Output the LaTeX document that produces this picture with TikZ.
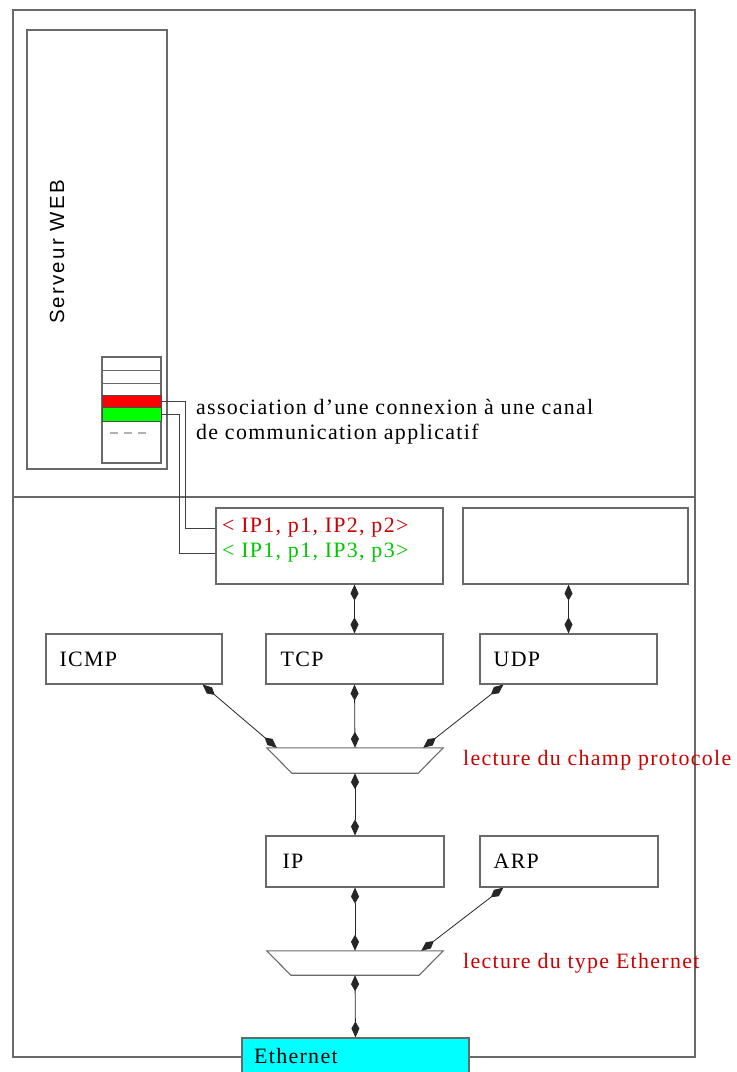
\documentclass[tikz,border=0pt]{standalone}
\usepackage{fontspec}
\setmainfont{Liberation Serif}[LetterSpace=6]
\newfontfamily\servfont{Liberation Sans}[LetterSpace=11]
\usetikzlibrary{arrows.meta,calc}
\definecolor{dred}{RGB}{204,0,0}
\definecolor{lgreen}{RGB}{0,200,0}
\definecolor{framec}{RGB}{105,105,105}
\definecolor{ethcyan}{RGB}{0,255,255}
\definecolor{rowred}{RGB}{255,0,0}
\definecolor{rowgreen}{RGB}{0,255,0}
\begin{document}
\begin{tikzpicture}[x=1bp,y=-1bp,font=\fontsize{22}{25}\selectfont,
  box/.style={draw=framec,line width=1.1bp,inner sep=0pt,fill=white},
  lbl/.style={inner sep=0pt,anchor=west},
  rowbox/.style={draw=black!70,line width=1bp,inner sep=0pt,minimum width=59bp},
  biarrow/.style={{Kite[length=16bp,width=8bp,inset=7bp]}-{Kite[length=16bp,width=8bp,inset=7bp]},line width=0.8bp,black!85},
  conn/.style={draw=black!75,line width=0.9bp}]
\useasboundingbox (0,0) rectangle (737,1072);
\clip (0,0) rectangle (737,1072);
% outer frame and divider
\draw[framec,line width=1.2bp] (13,10) rectangle (695,1057);
\draw[framec,line width=1.2bp] (13,497) -- (695,497);
% web server
\node[box,minimum width=140bp,minimum height=439bp] (server) at (97,249.5) {};
\node[inner sep=0pt,rotate=90,font=\servfont\fontsize{20.5}{22}\selectfont] (servlbl) at (57,252) {Serveur WEB};
% stack
\node[box,minimum width=59bp,minimum height=106bp] (stack) at (131.5,410) {};
\draw[framec,line width=1bp] (102,370) -- (161,370);
\draw[framec,line width=1bp] (102,383) -- (161,383);
\node[rowbox,fill=rowred,minimum height=12bp] (redrow) at (131.5,401) {};
\node[rowbox,fill=rowgreen,minimum height=14bp] (greenrow) at (131.5,414) {};
\draw[black!30,line width=2bp,dash pattern=on 8bp off 6bp] (110,433) -- (148,433);
\node[lbl,align=left,anchor=north west] (assoc) at (196,399) {association d’une connexion à une canal\\de communication applicatif};
% connection table
\node[box,minimum width=227bp,minimum height=76bp] (table) at (329.5,546) {};
\node[box,minimum width=225bp,minimum height=76bp] (empty) at (575.5,546) {};
\node[lbl,text=dred] (r1) at (222,528) {< IP1, p1, IP2, p2>};
\node[lbl,text=lgreen] (r2) at (222,553) {< IP1, p1, IP3, p3>};
\coordinate (rc) at (185,401);
\coordinate (gc) at (179,414);
\draw[conn] (redrow.east) -- (rc) |- (table.west |- r1.west);
\draw[conn] (greenrow.east) -- (gc) |- (table.west |- r2.west);
% transport layer
\node[box,minimum width=176bp,minimum height=50bp] (icmp) at (134,659) {};
\node[box,minimum width=177bp,minimum height=50bp] (tcp) at (354.5,659) {};
\node[box,minimum width=177bp,minimum height=50bp] (udp) at (568.5,659) {};
\node[lbl] (icmpl) at ([xshift=14bp]icmp.west) {ICMP};
\node[lbl] (tcpl) at ([xshift=15bp]tcp.west) {TCP};
\node[lbl] (udpl) at ([xshift=14bp]udp.west) {UDP};
% demux 1
\node[inner sep=0pt,minimum width=176bp,minimum height=25bp] (mux1) at (355,760.5) {};
\draw[framec,line width=1.1bp] (mux1.north west) -- (mux1.north east) -- ([xshift=-25bp]mux1.south east) -- ([xshift=25bp]mux1.south west) -- cycle;
\node[lbl,text=dred] (mux1l) at (463,760) {lecture du champ protocole};
% network layer
\node[box,minimum width=178bp,minimum height=51bp] (ip) at (355,861.5) {};
\node[box,minimum width=178bp,minimum height=51bp] (arp) at (569,861.5) {};
\node[lbl] (ipl) at ([xshift=17bp]ip.west) {IP};
\node[lbl] (arpl) at ([xshift=14bp]arp.west) {ARP};
% demux 2
\node[inner sep=0pt,minimum width=176bp,minimum height=24bp] (mux2) at (355,963) {};
\draw[framec,line width=1.1bp] (mux2.north west) -- (mux2.north east) -- ([xshift=-24bp]mux2.south east) -- ([xshift=24bp]mux2.south west) -- cycle;
\node[lbl,text=dred] (mux2l) at (463,963) {lecture du type Ethernet};
% ethernet
\node[box,fill=ethcyan,minimum width=227bp,minimum height=50bp] (eth) at (355.5,1063) {};
\node[lbl] (ethl) at (254,1056) {Ethernet};
% arrows
\draw[biarrow] (tcp.north) -- (tcp.north |- table.south);
\draw[biarrow] (udp.north) -- (udp.north |- empty.south);
\draw[biarrow] ([xshift=-20bp]icmp.south east) -- ([xshift=10bp]mux1.north west);
\draw[biarrow] (tcp.south) -- (mux1.north);
\draw[biarrow] ([xshift=24bp]udp.south west) -- ([xshift=-20bp]mux1.north east);
\draw[biarrow] (mux1.south) -- (ip.north);
\draw[biarrow] (ip.south) -- (mux2.north);
\draw[biarrow] ([xshift=24bp]arp.south west) -- ([xshift=-22bp]mux2.north east);
\draw[biarrow] (mux2.south) -- (eth.north);
\end{tikzpicture}
\end{document}
